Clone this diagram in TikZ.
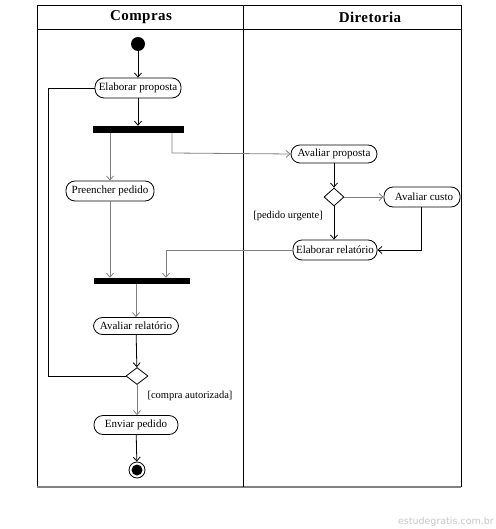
\documentclass[tikz,border=0pt]{standalone}
\usepackage{fontspec}
\setmainfont{Liberation Serif}
\newfontfamily\wmfont{DejaVu Sans}
\usetikzlibrary{arrows.meta,shapes.geometric,positioning,calc}
\begin{document}
\begin{tikzpicture}[x=1pt,y=-1pt,
  act/.style={draw,thick,rounded corners=9pt,minimum height=20pt,inner sep=1.5pt,font=\fontsize{11}{12}\selectfont},
  bar/.style={fill=black,draw=none,inner sep=0pt},
  dec/.style={draw,thick,diamond,inner sep=0pt,minimum width=20pt,minimum height=18pt,shape aspect=1.1},
  arr/.style={-{Straight Barb[length=4pt,width=7pt]},thick},
  garr/.style={arr,draw=gray},
  lbl/.style={font=\fontsize{10.5}{12}\selectfont,inner sep=1pt},
  hdr/.style={font=\fontsize{15}{17}\selectfont\bfseries\addfontfeature{LetterSpace=3}}
]
\useasboundingbox (0,0) rectangle (495,529);
% frame
\draw[thick] (37,487) -- (37,5) -- (461,5) -- (461,487);
\draw[line width=1.5pt,gray] (37,487) -- (461,487);
\draw[thick] (37,29) -- (461,29);
\draw[thick] (243,5) -- (243,487);
\node[hdr] (hc) at (141,17) {Compras};
\node[hdr] (hd) at (370,17) {Diretoria};
% nodes
\node[circle,fill=black,minimum size=14pt,inner sep=0pt] (start) at (138,44) {};
\node[act,minimum width=86pt] (ep) at (138,88) {Elaborar proposta};
\node[bar,minimum width=91pt,minimum height=7pt] (f1) at (138.5,129.5) {};
\node[act,minimum width=88pt] (pp) at (110,191) {Preencher pedido};
\node[act,minimum width=86pt,minimum height=18pt] (ap) at (334,154) {Avaliar proposta};
\node[dec] (d1) at (334,197) {};
\node[act,minimum width=76pt] (ac) at (422,197) {\hspace{4pt}Avaliar custo};
\node[act,minimum width=84pt] (er) at (335,250) {Elaborar relatório};
\node[bar,minimum width=96pt,minimum height=6pt] (f2) at (142,281) {};
\node[act,minimum width=85pt,minimum height=17pt] (ar) at (136,326) {Avaliar relatório};
\node[dec,minimum width=22pt,minimum height=17pt] (d2) at (137,376) {};
\node[act,minimum width=84pt,minimum height=19pt] (enp) at (136,425) {Enviar pedido};
\node[circle,draw,thick,minimum size=16pt,inner sep=0pt] (end) at (137,470) {};
\node[circle,fill=black,minimum size=11pt,inner sep=0pt] (endin) at (end.center) {};
% labels
\node[lbl] (lu) at (288,216) {[pedido urgente]};
\node[lbl] (lc) at (190,396) {[compra autorizada]};
% coordinates
\coordinate (c1) at (172,153);
\coordinate (c2) at (421,250);
\coordinate (c3) at (166,250);
\coordinate (c4) at (48,376);
\coordinate (c5) at (48,88);
% edges
\draw[arr] (start) -- (ep);
\draw[arr] (ep) -- (f1.north -| ep.south);
\draw[garr] (f1.south -| pp.north) -- (pp.north);
\draw[garr] (f1.south -| c1) -- (c1) -- (ap.west);
\draw[arr] (ap) -- (d1);
\draw[garr] (d1.east) -- (ac.west);
\draw[arr] (d1.south) -- (er.north -| d1.south);
\draw[arr] (ac.south -| c2) -- (c2) -- (er.east);
\draw[garr] (er.west) -- (c3) -- (f2.north -| c3);
\draw[garr] (pp.south) -- (f2.north -| pp.south);
\draw[garr] (f2.south -| ar.north) -- (ar.north);
\draw[arr] (ar) -- (d2);
\draw[thick] (d2.west) -- (c4) -- (c5) -- (ep.west);
\draw[garr] (d2.south) -- (enp.north -| d2.south);
\draw[arr] (enp) -- (end);
% watermark
\node[font=\wmfont\fontsize{9.5}{11}\selectfont,text=gray!45,anchor=east,inner sep=0pt] (wm) at (494,522) {estudegratis.com.br};
\end{tikzpicture}
\end{document}
